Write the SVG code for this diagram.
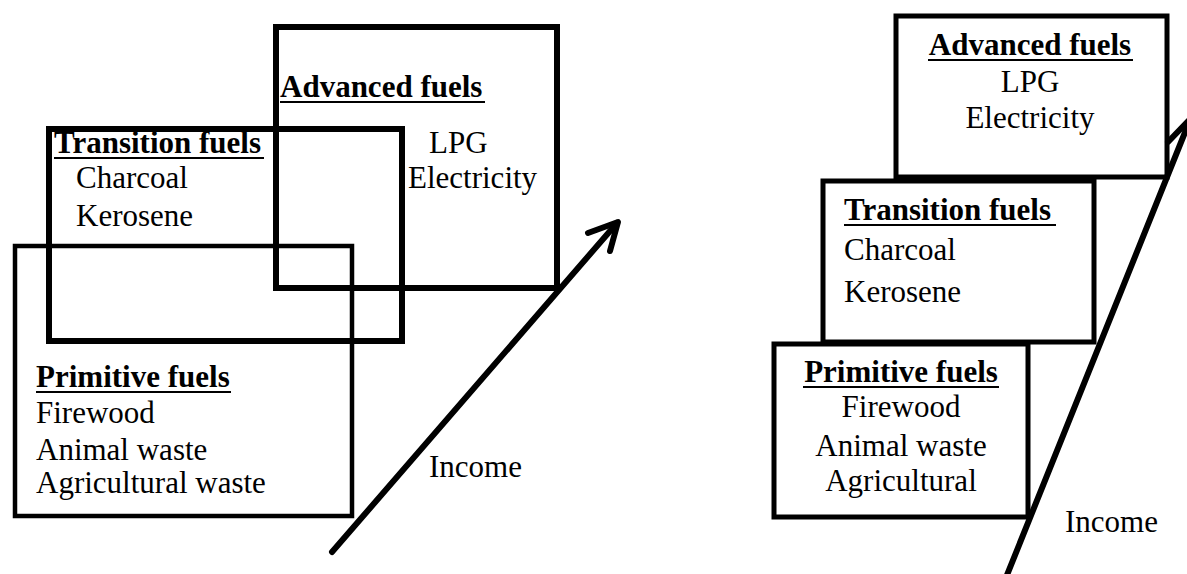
<svg xmlns="http://www.w3.org/2000/svg" width="1187" height="574" viewBox="0 0 1187 574">
<style>
.box{fill:none;stroke:#000;stroke-linejoin:miter}
.t{font-family:"Liberation Serif","Times New Roman",serif;font-size:31px;fill:#000}
.b{font-weight:bold}
.u{stroke:#000;stroke-width:2}
.arr{stroke:#000;stroke-width:6;stroke-linecap:round;stroke-linejoin:round;fill:none}
</style>
<rect width="1187" height="574" fill="#fff"/>
<g id="left-advanced">
<rect class="box" x="276" y="27" width="281" height="261" stroke-width="6"/>
<text class="t b" x="280" y="97">Advanced fuels</text>
<line class="u" x1="280" y1="102" x2="485" y2="102"/>
<text class="t" x="429" y="153">LPG</text>
<text class="t" x="408" y="188">Electricity</text>
</g>
<g id="left-transition">
<rect class="box" x="49" y="129" width="353" height="212" stroke-width="6"/>
<text class="t b" x="54" y="153">Transition fuels</text>
<line class="u" x1="54" y1="158" x2="264" y2="158"/>
<text class="t" x="76" y="188">Charcoal</text>
<text class="t" x="76" y="226">Kerosene</text>
</g>
<g id="left-primitive">
<rect class="box" x="15" y="246" width="337" height="270" stroke-width="4.5"/>
<text class="t b" x="36" y="387">Primitive fuels</text>
<line class="u" x1="36" y1="392" x2="231" y2="392"/>
<text class="t" x="36" y="423">Firewood</text>
<text class="t" x="36" y="460">Animal waste</text>
<text class="t" x="36" y="493">Agricultural waste</text>
</g>
<g id="right-advanced">
<rect class="box" x="896" y="16" width="271" height="161" stroke-width="5"/>
<text class="t b" x="1030" y="55" text-anchor="middle">Advanced fuels</text>
<line class="u" x1="928" y1="60" x2="1133" y2="60"/>
<text class="t" x="1030" y="92" text-anchor="middle">LPG</text>
<text class="t" x="1030" y="128" text-anchor="middle">Electricity</text>
</g>
<g id="right-transition">
<rect class="box" x="823" y="181" width="271" height="161" stroke-width="5"/>
<text class="t b" x="844" y="220">Transition fuels</text>
<line class="u" x1="844" y1="225" x2="1056" y2="225"/>
<text class="t" x="844" y="260">Charcoal</text>
<text class="t" x="844" y="302">Kerosene</text>
</g>
<g id="right-primitive">
<rect class="box" x="774" y="344" width="254" height="173" stroke-width="5"/>
<text class="t b" x="901" y="382" text-anchor="middle">Primitive fuels</text>
<line class="u" x1="803" y1="387" x2="999" y2="387"/>
<text class="t" x="901" y="417" text-anchor="middle">Firewood</text>
<text class="t" x="901" y="456" text-anchor="middle">Animal waste</text>
<text class="t" x="901" y="491" text-anchor="middle">Agricultural</text>
</g>
<g id="connectors">
<line class="arr" x1="332" y1="552" x2="617" y2="223"/>
<polyline class="arr" points="588,233 618,222 610,251"/>
<line class="arr" x1="1005" y1="580" x2="1196" y2="105"/>
<line class="arr" x1="1168" y1="142" x2="1194" y2="115"/>
<text class="t" x="429" y="477">Income</text>
<text class="t" x="1065" y="532">Income</text>
</g>
</svg>
